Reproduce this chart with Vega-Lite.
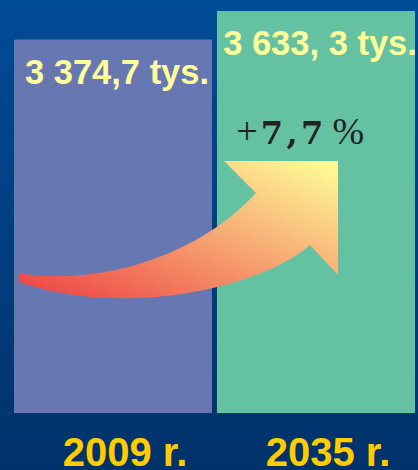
{
  "$schema": "https://vega.github.io/schema/vega-lite/v6.json",
  "width": 418,
  "height": 470,
  "padding": 0,
  "autosize": {"type": "none"},
  "background": "#003f80",
  "view": {
    "stroke": null,
    "fill": {"gradient": "linear", "x1": 0, "y1": 0, "x2": 0, "y2": 1, "stops": [{"offset": 0, "color": "#004b96"}, {"offset": 1, "color": "#00326a"}]}
  },
  "datasets": {
    "bars": [
      {"year": "2009 r.", "v": 3374.7, "label": "3 374,7 tys."},
      {"year": "2035 r.", "v": 3633.3, "label": "3 633, 3 tys."}
    ],
    "arrow": [{"u": 0.854, "v": 1645}],
    "pct": [
      {"t": "+", "u": 1.182, "v": 2431},
      {"t": "7", "u": 1.301, "v": 2431},
      {"t": ",", "u": 1.397, "v": 2431},
      {"t": "7 ", "u": 1.493, "v": 2431},
      {"t": "%", "u": 1.667, "v": 2431}
    ]
  },
  "resolve": {"scale": {"x": "independent"}},
  "layer": [
    {
      "data": {"name": "bars"},
      "encoding": {
        "x": {
          "field": "year", "type": "nominal", "sort": null,
          "scale": {"paddingInner": 0.02463, "paddingOuter": 0.04187, "align": 0.8235},
          "axis": {
            "title": null, "orient": "bottom", "offset": -57,
            "domainColor": "#26334f", "domainWidth": 1.2,
            "ticks": false, "tickSize": 0, "labelPadding": 52, "labelOffset": 12,
            "labelBaseline": "alphabetic", "labelAngle": 0,
            "labelFont": "Liberation Sans", "labelFontSize": 40, "labelFontWeight": "bold",
            "labelColor": "#ffcc00", "grid": false
          }
        },
        "y": {
          "field": "v", "type": "quantitative",
          "scale": {"domain": [0, 3633.3], "range": [413, 11], "nice": false, "zero": true},
          "axis": null
        }
      },
      "layer": [
        {
          "mark": {"type": "bar"},
          "encoding": {
            "color": {
              "field": "year", "type": "nominal", "legend": null,
              "scale": {"domain": ["2009 r.", "2035 r."], "range": ["#6777b1", "#64c2a2"]}
            }
          }
        },
        {
          "mark": {"type": "text", "align": "center", "baseline": "alphabetic", "dy": 44, "dx": 4, "font": "Liberation Sans", "fontSize": 34.5, "fontWeight": "bold", "color": "#ffff99"},
          "encoding": {"text": {"field": "label"}}
        }
      ]
    },
    {
      "layer": [
        {
          "data": {"name": "arrow"},
          "mark": {
            "type": "point", "filled": true, "opacity": 1, "strokeWidth": 0, "size": 40000,
            "shape": "M-1.595,0.42C-0.785,0.56,0.215,0.24,0.775,-0.38L0.455,-0.7L1.595,-0.7L1.595,0.44L1.315,0.14C0.865,0.54,-0.485,0.89,-1.595,0.51Z",
            "fill": {"gradient": "linear", "x1": 0, "y1": 1, "x2": 1, "y2": 0, "stops": [{"offset": 0, "color": "#ec3f40"}, {"offset": 0.5, "color": "#f6a070"}, {"offset": 1, "color": "#ffff99"}]}
          },
          "encoding": {
            "x": {"field": "u", "type": "quantitative", "scale": {"domain": [0, 2], "nice": false, "zero": false}, "axis": null},
            "y": {"field": "v", "type": "quantitative"}
          }
        },
        {
          "data": {"name": "pct"},
          "transform": [{"filter": "datum.t == '+' || datum.t == '%'"}],
          "mark": {"type": "text", "align": "center", "baseline": "alphabetic", "font": "Liberation Serif", "fontSize": 38, "color": "#222222"},
          "encoding": {
            "x": {"field": "u", "type": "quantitative"},
            "y": {"field": "v", "type": "quantitative"},
            "text": {"field": "t"}
          }
        },
        {
          "data": {"name": "pct"},
          "transform": [{"filter": "datum.t != '+' && datum.t != '%'"}],
          "mark": {"type": "text", "align": "center", "baseline": "alphabetic", "font": "DejaVu Serif", "fontSize": 32, "fontWeight": "bold", "color": "#222222"},
          "encoding": {
            "x": {"field": "u", "type": "quantitative"},
            "y": {"field": "v", "type": "quantitative"},
            "text": {"field": "t"}
          }
        }
      ]
    }
  ]
}
